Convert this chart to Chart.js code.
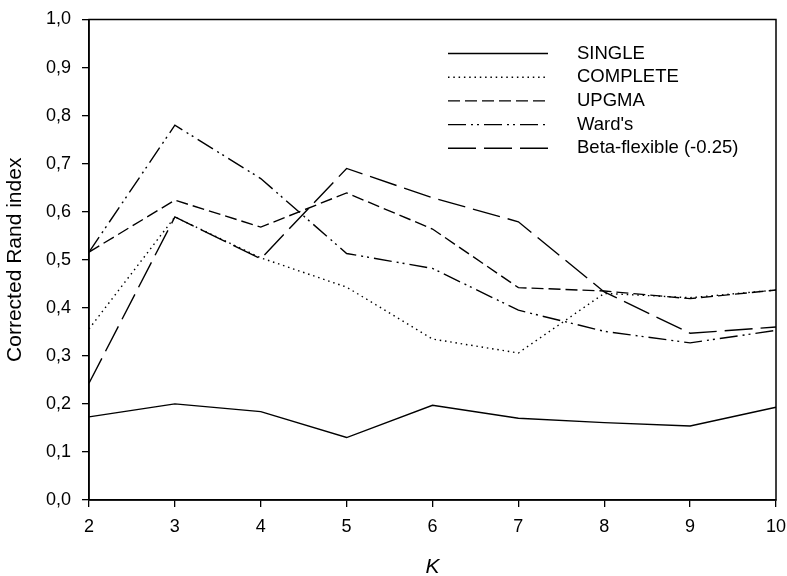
<!DOCTYPE html>
<html>
<head>
<meta charset="utf-8">
<script src="https://cdn.jsdelivr.net/npm/chart.js@4/dist/chart.umd.min.js"></script>
<style>
  html, body { margin: 0; padding: 0; background: #fff; }
  canvas { display: block; }
</style>
</head>
<body>
<canvas id="chart" width="787" height="576"></canvas>
<script>
// Number of clusters K
const kValues = ['2', '3', '4', '5', '6', '7', '8', '9', '10'];

// Corrected Rand index for each clustering method
const singleLink   = [0.173, 0.200, 0.184, 0.130, 0.197, 0.170, 0.161, 0.154, 0.193];
const completeLink = [0.356, 0.589, 0.504, 0.443, 0.335, 0.306, 0.430, 0.421, 0.437];
const upgma        = [0.516, 0.624, 0.568, 0.639, 0.564, 0.442, 0.435, 0.419, 0.437];
const wards        = [0.516, 0.780, 0.669, 0.513, 0.482, 0.395, 0.351, 0.327, 0.353];
const betaFlexible = [0.243, 0.589, 0.502, 0.690, 0.629, 0.579, 0.433, 0.347, 0.360];

const seriesNames = ['SINGLE', 'COMPLETE', 'UPGMA', "Ward's", 'Beta-flexible (-0.25)'];

// Y axis tick labels (decimal comma)
const yTickLabels = ['0,0', '0,1', '0,2', '0,3', '0,4', '0,5', '0,6', '0,7', '0,8', '0,9', '1,0'];

const FONT = '"Liberation Sans", Arial, sans-serif';
const LINE_W = 1.4;

const dashes = [
  [],
  [1.5, 3.8],
  [12, 5],
  [18, 5, 2, 4, 2, 5],
  [28, 8]
];
const seriesData = [singleLink, completeLink, upgma, wards, betaFlexible];

const datasets = seriesData.map((d, i) => ({
  label: seriesNames[i],
  data: d,
  borderColor: '#000',
  backgroundColor: '#000',
  borderWidth: LINE_W,
  borderDash: dashes[i],
  borderCapStyle: 'butt',
  pointRadius: 0,
  tension: 0,
  fill: false
}));

// Frame around the plotting area and the in-plot legend
const framePlugin = {
  id: 'frame',
  afterDatasetsDraw(chart) {
    const { ctx, chartArea: a } = chart;
    ctx.save();
    ctx.strokeStyle = '#000';
    ctx.lineWidth = 1.5;
    ctx.setLineDash([]);
    ctx.strokeRect(a.left, a.top, a.right - a.left, a.bottom - a.top);

    // legend
    const x0 = 448, x1 = 548, tx = 577, y0 = 53.5, dy = 23.7;
    chart.data.datasets.forEach((ds, i) => {
      const y = y0 + i * dy;
      ctx.beginPath();
      ctx.setLineDash(ds.borderDash || []);
      ctx.lineWidth = ds.borderWidth;
      ctx.strokeStyle = ds.borderColor;
      ctx.moveTo(x0, y);
      ctx.lineTo(x1, y);
      ctx.stroke();
      ctx.setLineDash([]);
      ctx.fillStyle = '#000';
      ctx.font = '18.5px ' + FONT;
      ctx.textBaseline = 'middle';
      ctx.textAlign = 'left';
      ctx.fillText(ds.label, tx, y);
    });
    ctx.restore();
  }
};

new Chart(document.getElementById('chart'), {
  type: 'line',
  data: { labels: kValues, datasets },
  options: {
    responsive: false,
    animation: false,
    devicePixelRatio: 1,
    layout: { padding: { top: 19.5, right: 11, left: 0, bottom: 0 } },
    plugins: {
      legend: { display: false },
      tooltip: { enabled: false }
    },
    scales: {
      x: {
        type: 'category',
        offset: false,
        afterFit(scale) {
          scale.height = 76;
          scale.paddingLeft = 0;
          scale.paddingRight = 0;
        },
        grid: {
          drawOnChartArea: false,
          drawTicks: true,
          tickLength: 7,
          color: '#000',
          lineWidth: 1.3
        },
        border: { display: true, color: '#000', width: 1.5 },
        ticks: {
          color: '#000',
          font: { family: FONT, size: 18 },
          padding: 9,
          maxRotation: 0,
          autoSkip: false
        },
        title: {
          display: true,
          text: 'K',
          color: '#000',
          font: { family: FONT, size: 21, style: 'italic', lineHeight: 1 },
          padding: { top: 0, bottom: -2 }
        }
      },
      y: {
        min: 0,
        max: 1,
        afterFit(scale) {
          scale.width = 89;
          scale.paddingTop = 0;
          scale.paddingBottom = 0;
        },
        grid: {
          drawOnChartArea: false,
          drawTicks: true,
          tickLength: 7,
          color: '#000',
          lineWidth: 1.3
        },
        border: { display: true, color: '#000', width: 1.5 },
        ticks: {
          stepSize: 0.1,
          color: '#000',
          font: { family: FONT, size: 18 },
          padding: 11,
          callback: (v, i) => yTickLabels[i]
        },
        title: {
          display: true,
          text: 'Corrected Rand index',
          color: '#000',
          font: { family: FONT, size: 21, lineHeight: 1 },
          padding: { top: 5, bottom: 0 }
        }
      }
    }
  },
  plugins: [framePlugin]
});
</script>
</body>
</html>
